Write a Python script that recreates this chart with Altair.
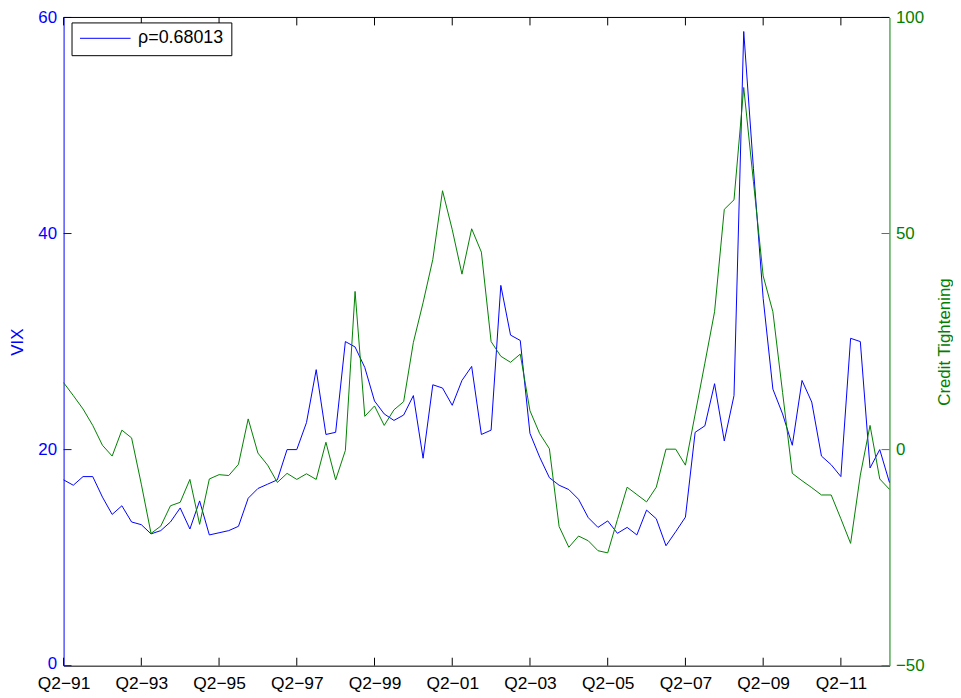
import altair as alt
import pandas as pd

# quarterly values, Q2-91 .. Q3-12
vix = [17.2, 16.7, 17.5, 17.5, 15.6, 14.0, 14.8, 13.3, 13.05, 12.2,
       12.5, 13.3, 14.6, 12.65, 15.25, 12.1, 12.3, 12.5, 12.9, 15.5,
       16.4, 16.8, 17.2, 20.0, 20.0, 22.5, 27.4, 21.4, 21.6, 30.0,
       29.5, 27.6, 24.5, 23.3, 22.7, 23.2, 25.0, 19.2, 26.0, 25.7,
       24.1, 26.4, 27.7, 21.4, 21.8, 35.2, 30.6, 30.1, 21.5, 19.3,
       17.4, 16.7, 16.3, 15.4, 13.7, 12.8, 13.4, 12.25, 12.8, 12.1,
       14.4, 13.6, 11.1, 12.4, 13.75, 21.6, 22.2, 26.1, 20.8, 25.0,
       58.7, 46.0, 34.0, 25.6, 23.3, 20.4, 26.4, 24.4, 19.4, 18.6,
       17.5, 30.3, 30.0, 18.3, 20.0, 16.95]
credit = [15.5, 12.5, 9.4, 5.6, 1.0, -1.5, 4.5, 2.7, -8.0, -19.4,
          -17.7, -13.0, -12.2, -6.9, -17.3, -6.8, -5.8, -6.0, -3.4, 7.1,
          -0.8, -3.6, -7.6, -5.5, -6.9, -5.6, -6.9, 1.7, -7.0, -0.2,
          36.6, 7.7, 10.1, 5.6, 9.2, 11.1, 24.8, 34.0, 44.0, 59.9,
          50.9, 40.6, 51.1, 45.7, 25.0, 21.6, 20.2, 22.1, 9.0, 3.7,
          0.2, -17.8, -22.6, -20.0, -21.1, -23.4, -23.9, -16.2, -8.7, -10.4,
          -12.1, -8.7, 0.1, 0.1, -3.6, 8.2, 20.0, 31.9, 55.6, 57.8,
          83.8, 62.0, 40.2, 31.9, 13.2, -5.5, -7.2, -8.8, -10.5, -10.5,
          -16.0, -21.7, -5.9, 5.6, -6.8, -9.2]

quarter_ticks = [0, 8, 16, 24, 32, 40, 48, 56, 64, 72, 80]
quarter_labels = ["Q2−91", "Q2−93", "Q2−95", "Q2−97", "Q2−99", "Q2−01",
                  "Q2−03", "Q2−05", "Q2−07", "Q2−09", "Q2−11"]
vix_ticks = [0, 20, 40, 60]
credit_ticks = [-50, 0, 50, 100]
legend_label = "ρ=0.68013"

BLUE = "#0000ff"
GREEN = "#008000"
W, H = 832, 653

df = pd.DataFrame({"idx": range(len(vix)), "vix": vix, "credit": credit,
                   "serie": legend_label})

label_expr = ("[" + ",".join(f"'{s}'" for s in quarter_labels) + "]"
              "[round(datum.value / 8)]")
x_scale = alt.Scale(domain=[0, len(vix) - 1], nice=False, zero=False)
vix_scale = alt.Scale(domain=[0, 60], nice=False)
credit_scale = alt.Scale(domain=[-50, 100], nice=False)

x_enc = alt.X("idx:Q", title="", scale=x_scale,
              axis=alt.Axis(values=quarter_ticks, labelExpr=label_expr, ticks=False,
                            domainColor="black", labelColor="black", labelPadding=9,
                            labelFontSize=17.5, labelFlush=False, labelOverlap=False,
                            grid=False))

# lift only the "0" a little so it clears the Q2-91 label
zero_lift = {"condition": {"test": "datum.value == 0", "value": -2}, "value": 0}

vix_line = alt.Chart(df).mark_line(strokeWidth=1).encode(
    x=x_enc,
    y=alt.Y("vix:Q", scale=vix_scale,
            axis=alt.Axis(orient="left", values=vix_ticks, title="VIX", titleColor=BLUE,
                          labelColor=BLUE, domainColor=BLUE, ticks=False, labelPadding=7,
                          labelOffset=zero_lift, titleX=-46, titleY=H / 2, titleAngle=270,
                          titleBaseline="middle", titleAlign="center", labelFlush=False,
                          grid=False)),
    color=alt.Color("serie:N", scale=alt.Scale(domain=[legend_label], range=[BLUE]),
                    legend=alt.Legend(orient="none", legendX=8, legendY=5, title=None,
                                      strokeColor="black", fillColor="white", padding=8,
                                      symbolType="stroke", symbolSize=2600, clipHeight=16,
                                      symbolStrokeWidth=1, labelFontSize=18,
                                      labelColor="black", labelOffset=7, cornerRadius=0)),
)

credit_line = alt.Chart(df).mark_line(strokeWidth=1, color=GREEN).encode(
    x=x_enc,
    y=alt.Y("credit:Q", scale=credit_scale,
            axis=alt.Axis(orient="right", values=credit_ticks, title="Credit Tightening",
                          titleColor=GREEN, labelColor=GREEN, domainColor=GREEN,
                          ticks=False, labelPadding=6, titleX=55, titleY=H / 2,
                          titleAngle=270, titleBaseline="middle", titleAlign="center",
                          labelFlush=False, grid=False)),
)

# inward ticks and the top frame line, matlab style
xt = pd.DataFrame({"idx": quarter_ticks})
bottom_ticks = alt.Chart(xt).mark_rule(color="black").encode(
    x=x_enc, y=alt.value(H), y2=alt.value(H - 8))
top_ticks = alt.Chart(xt).mark_rule(color="black").encode(
    x=x_enc, y=alt.value(0), y2=alt.value(8))
left_ticks = alt.Chart(pd.DataFrame({"v": vix_ticks})).mark_rule(color=BLUE).encode(
    y=alt.Y("v:Q", scale=vix_scale, axis=None), x=alt.value(0), x2=alt.value(8))
right_ticks = alt.Chart(pd.DataFrame({"v": credit_ticks})).mark_rule(color="#3a7f6f").encode(
    y=alt.Y("v:Q", scale=credit_scale, axis=None), x=alt.value(W - 8), x2=alt.value(W))
top_line = alt.Chart(pd.DataFrame({"a": [0]})).mark_rule(color="black").encode(
    x=alt.value(0), x2=alt.value(W), y=alt.value(0))

chart = (
    alt.layer(vix_line, credit_line, bottom_ticks, top_ticks, left_ticks, right_ticks, top_line)
    .resolve_scale(y="independent", color="independent")
    .properties(width=W, height=H, autosize=alt.AutoSizeParams(type="none"),
                padding={"left": 56, "top": 7, "right": 64, "bottom": 24})
    .configure(font="Liberation Sans")
    .configure_axis(labelFontSize=17, titleFontSize=17, titleFontWeight="normal")
    .configure_view(strokeWidth=0)
)

chart.save("out.html", embed_options={"renderer": "svg", "actions": False})
